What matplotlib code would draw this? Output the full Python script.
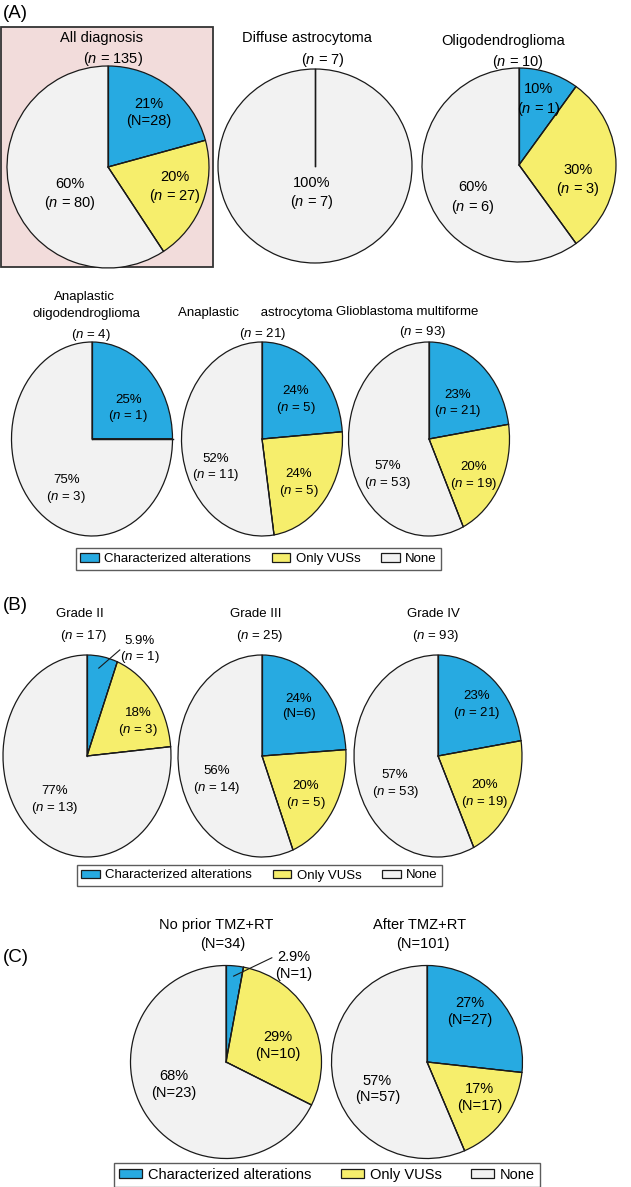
import numpy as np
import matplotlib.pyplot as plt
from matplotlib.patches import Patch, Rectangle

plt.rcParams['font.family'] = ['Liberation Sans', 'DejaVu Sans']
plt.rcParams['mathtext.fontset'] = 'custom'
plt.rcParams['mathtext.rm'] = 'Liberation Sans'
plt.rcParams['mathtext.it'] = 'Liberation Sans:italic'

W, H = 631, 1187
FS = 10.5     # normal rows
FSN = 9.5     # rows that are squeezed sideways in the original

colors = ['#27aae1', '#f6ee6c', '#f2f2f2']
legend_names = ['Characterized alterations', 'Only VUSs', 'None']

# (A) by diagnosis
all_title = ['All diagnosis', '($n$ = 135)']
all_vals = [28, 27, 80]
all_labels = ['21%\n(N=28)', '20%\n($n$ = 27)', '60%\n($n$ = 80)']

diffuse_title = ['Diffuse astrocytoma', '($n$ = 7)']
diffuse_vals = [0, 0, 7]
diffuse_labels = ['', '', '100%\n($n$ = 7)']

oligo_title = ['Oligodendroglioma', '($n$ = 10)']
oligo_vals = [1, 3, 6]
oligo_labels = ['10%\n($n$ = 1)', '30%\n($n$ = 3)', '60%\n($n$ = 6)']

anaoligo_title = ['Anaplastic', 'oligodendroglioma', '($n$ = 4)']
anaoligo_vals = [1, 0, 3]
anaoligo_labels = ['25%\n($n$ = 1)', '', '75%\n($n$ = 3)']

anaastro_title = ['Anaplastic      astrocytoma', '($n$ = 21)']
anaastro_vals = [5, 5, 11]
anaastro_labels = ['24%\n($n$ = 5)', '24%\n($n$ = 5)', '52%\n($n$ = 11)']

gbm_title = ['Glioblastoma multiforme', '($n$ = 93)']
gbm_vals = [21, 19, 53]
gbm_labels = ['23%\n($n$ = 21)', '20%\n($n$ = 19)', '57%\n($n$ = 53)']

# (B) by grade
g2_title = ['Grade II', '($n$ = 17)']
g2_vals = [1, 3, 13]
g2_labels = ['5.9%\n($n$ = 1)', '18%\n($n$ = 3)', '77%\n($n$ = 13)']

g3_title = ['Grade III', '($n$ = 25)']
g3_vals = [6, 5, 14]
g3_labels = ['24%\n(N=6)', '20%\n($n$ = 5)', '56%\n($n$ = 14)']

g4_title = ['Grade IV', '($n$ = 93)']
g4_vals = [21, 19, 53]
g4_labels = ['23%\n($n$ = 21)', '20%\n($n$ = 19)', '57%\n($n$ = 53)']

# (C) by treatment
pre_title = ['No prior TMZ+RT', '(N=34)']
pre_vals = [1, 10, 23]
pre_labels = ['2.9%\n(N=1)', '29%\n(N=10)', '68%\n(N=23)']

post_title = ['After TMZ+RT', '(N=101)']
post_vals = [27, 17, 57]
post_labels = ['27%\n(N=27)', '17%\n(N=17)', '57%\n(N=57)']

fig = plt.figure(figsize=(W / 100, H / 100), dpi=100)
ov = fig.add_axes([0, 0, 1, 1])
ov.set_xlim(0, W)
ov.set_ylim(H, 0)
ov.axis('off')

ov.add_patch(Rectangle((1, 27), 212, 240, facecolor='#f2dcdb', edgecolor='#333333', lw=1.3))
for txt, y in [('(A)', 13), ('(B)', 605), ('(C)', 958)]:
    ov.text(3, y, txt, fontsize=13.5, ha='left', va='center')


def draw_pie(vals, labels, cx, cy, rx, ry, pos, fs, leader=None):
    ax = fig.add_axes([(cx - rx) / W, 1 - (cy + ry) / H, 2 * rx / W, 2 * ry / H])
    wedges, _ = ax.pie(vals, colors=colors, startangle=90, counterclock=False,
                       wedgeprops=dict(edgecolor='#1a1a1a', linewidth=0.9))
    for w in wedges:
        w.set_clip_on(False)
    # radial borders (also shows the seam of a one-category pie)
    ang = np.radians(90 - 360 * np.cumsum([0] + vals[:-1]) / sum(vals))
    for a in ang:
        ax.plot([0, np.cos(a)], [0, np.sin(a)], color='#1a1a1a', lw=0.9, clip_on=False)
    ax.set_aspect('auto')
    ax.set_xlim(-1, 1)
    ax.set_ylim(-1, 1)
    ax.axis('off')
    for lab, p in zip(labels, pos):
        if lab and p is not None:
            ax.text(p[0], p[1], lab, ha='center', va='center', fontsize=fs,
                    linespacing=1.25, clip_on=False)
    if leader:
        ax.plot([leader[0][0], leader[1][0]], [leader[0][1], leader[1][1]],
                color='#1a1a1a', lw=0.8, clip_on=False)


def titles(lines, xs, ys, fs):
    for t, x, y in zip(lines, xs, ys):
        ov.text(x, y, t, ha='center', va='center', fontsize=fs)


# row A1
draw_pie(all_vals, all_labels, 108, 167, 101, 101,
         [(0.40, 0.54), (0.66, -0.20), (-0.38, -0.27)], FS)
titles(all_title, [102, 113], [38, 59], FS)
draw_pie(diffuse_vals, diffuse_labels, 315, 166, 97, 97,
         [None, None, (-0.03, -0.28)], FS)
titles(diffuse_title, [307, 323], [38, 60], FS)
draw_pie(oligo_vals, oligo_labels, 519, 165, 97, 97,
         [(0.20, 0.67), (0.61, -0.16), (-0.48, -0.34)], FS)
titles(oligo_title, [503, 518], [41, 62], FS)

# row A2
draw_pie(anaoligo_vals, anaoligo_labels, 92, 439, 80.5, 97,
         [(0.45, 0.31), None, (-0.32, -0.52)], FSN)
titles(anaoligo_title, [84, 86, 91], [297, 314, 335], FSN)
draw_pie(anaastro_vals, anaastro_labels, 262, 439, 80.5, 97,
         [(0.42, 0.40), (0.46, -0.46), (-0.58, -0.30)], FSN)
titles(anaastro_title, [255, 263], [313, 334], FSN)
draw_pie(gbm_vals, gbm_labels, 429, 439, 80.5, 97,
         [(0.35, 0.36), (0.56, -0.39), (-0.51, -0.38)], FSN)
titles(gbm_title, [407, 423], [312, 332], FSN)

# row B
draw_pie(g2_vals, g2_labels, 87, 756, 84, 101,
         [(0.63, 1.05), (0.61, 0.33), (-0.38, -0.44)], FSN,
         leader=[(0.14, 0.87), (0.39, 1.05)])
titles(g2_title, [80, 84], [614, 636], FSN)
draw_pie(g3_vals, g3_labels, 262, 756, 84, 101,
         [(0.44, 0.49), (0.52, -0.39), (-0.54, -0.24)], FSN)
titles(g3_title, [256, 260], [614, 636], FSN)
draw_pie(g4_vals, g4_labels, 438, 756, 84, 101,
         [(0.46, 0.50), (0.56, -0.38), (-0.51, -0.28)], FSN)
titles(g4_title, [433, 436], [614, 636], FSN)

# row C
draw_pie(pre_vals, pre_labels, 226, 1062, 95.5, 96.5,
         [(0.71, 1.00), (0.54, 0.17), (-0.55, -0.23)], FS,
         leader=[(0.08, 0.89), (0.48, 1.08)])
titles(pre_title, [216, 223], [925, 944], FS)
draw_pie(post_vals, post_labels, 427, 1062, 95.5, 96.5,
         [(0.45, 0.52), (0.55, -0.37), (-0.52, -0.28)], FS)
titles(post_title, [420, 423], [925, 944], FS)


def legend(cx, cy, fs, hl, cs):
    handles = [Patch(facecolor=c, edgecolor='#1a1a1a', linewidth=0.9, label=n)
               for c, n in zip(colors, legend_names)]
    leg = fig.legend(handles=handles, loc='center', bbox_to_anchor=(cx / W, 1 - cy / H),
                     ncol=3, frameon=True, fancybox=False, edgecolor='#333333',
                     fontsize=fs, handlelength=hl, handleheight=0.6,
                     handletextpad=0.4, columnspacing=cs, borderpad=0.35,
                     borderaxespad=0)
    leg.get_frame().set_linewidth(1.0)


legend(258.5, 559, FSN, 1.4, 1.6)
legend(259.5, 875.5, FSN, 1.4, 1.6)
legend(327, 1175, FS, 1.6, 2.0)

fig.savefig('out.png', dpi=100)
